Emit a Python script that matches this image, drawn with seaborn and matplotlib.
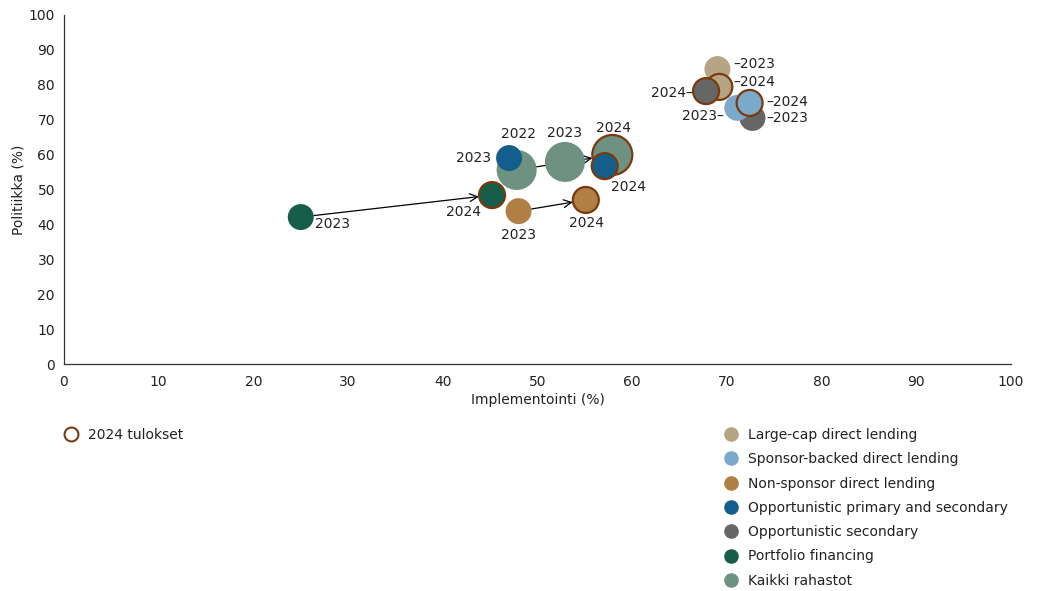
import matplotlib
matplotlib.use("Agg")
import numpy as np
import pandas as pd
import seaborn as sns
from matplotlib import pyplot as plt
from matplotlib.lines import Line2D

# Data (drawing order: later rows on top)
rahasto = [
    "Opportunistic secondary", "Sponsor-backed direct lending",
    "Large-cap direct lending", "Large-cap direct lending",
    "Opportunistic secondary", "Sponsor-backed direct lending",
    "Kaikki rahastot", "Kaikki rahastot", "Kaikki rahastot",
    "Opportunistic primary and secondary", "Opportunistic primary and secondary",
    "Non-sponsor direct lending", "Non-sponsor direct lending",
    "Portfolio financing", "Portfolio financing",
]
vuosi = [2023, 2023, 2023, 2024, 2024, 2024, 2022, 2023, 2024, 2023, 2024, 2023, 2024, 2023, 2024]
implementointi = [72.7, 71.1, 69.0, 69.2, 67.8, 72.4, 47.8, 52.9, 57.9, 47.0, 57.1, 48.0, 55.1, 25.0, 45.2]
politiikka = [70.5, 73.4, 84.5, 79.4, 78.2, 74.8, 55.6, 57.9, 59.9, 59.0, 56.7, 43.8, 47.0, 42.1, 48.4]

legend_order = [
    "Large-cap direct lending", "Sponsor-backed direct lending",
    "Non-sponsor direct lending", "Opportunistic primary and secondary",
    "Opportunistic secondary", "Portfolio financing", "Kaikki rahastot",
]
colors = ["#b5a584", "#7aa9c9", "#b07f43", "#135e8c", "#666666", "#175e4a", "#6f9182"]
palette = dict(zip(legend_order, colors))
edge_2024 = "#7a3a0e"

# label placement per row: (text, ha, dx px, dy px up)
labels = [
    ("\u20132023", "left", 14, 0), ("2023\u2013", "right", -13, -8),
    ("\u20132023", "left", 16, 5), ("\u20132024", "left", 14, 5),
    ("2024\u2013", "right", -13, -2), ("\u20132024", "left", 17, 1),
    ("2022", "center", 2, 36), ("2023", "center", 0, 29), ("2024", "center", 1, 27),
    ("2023", "right", -18, 0), ("2024", "center", 24, -21),
    ("2023", "center", 0, -24), ("2024", "center", 1, -23),
    ("2023", "center", 32, -7), ("2024", "center", -29, -17),
]

df = pd.DataFrame({"rahasto": rahasto, "vuosi": vuosi,
                   "x": implementointi, "y": politiikka})
df["koko"] = np.where(df["rahasto"] == "Kaikki rahastot", "iso", "pieni")

sns.set_style("white")
plt.rcParams["font.family"] = ["DejaVu Sans"]
txt = "#222222"
fs = 10

fig = plt.figure(figsize=(10.42, 5.91), dpi=100)
ax = fig.add_axes([64 / 1042, 1 - 364 / 591, (1011 - 64) / 1042, (364 - 15) / 591])

is24 = df["vuosi"] == 2024
sns.scatterplot(data=df, x="x", y="y", hue="rahasto", palette=palette,
                size="koko", sizes={"iso": 830, "pieni": 350},
                edgecolor=[edge_2024 if v else "none" for v in is24],
                linewidth=[1.6 if v else 0 for v in is24],
                alpha=1, legend=False, ax=ax, zorder=3)

# arrows between years
def arrow(i, j):
    r_a = 14.5 if df.koko[i] == "iso" else 9.5
    r_b = 14.5 if df.koko[j] == "iso" else 9.5
    ax.annotate("", xy=(df.x[j], df.y[j]), xytext=(df.x[i], df.y[i]),
                arrowprops=dict(arrowstyle="->", color="black", lw=0.9,
                                shrinkA=r_a, shrinkB=r_b, mutation_scale=14),
                zorder=2)

arrow(13, 14)
arrow(11, 12)
arrow(6, 8)

for i, (t, ha, dx, dy) in enumerate(labels):
    ax.annotate(t, xy=(df.x[i], df.y[i]), xytext=(dx * 0.72, dy * 0.72),
                textcoords="offset points", ha=ha, va="center",
                fontsize=fs, color=txt, zorder=5)

ax.set_xlim(0, 100)
ax.set_ylim(0, 100)
ax.set_xticks(range(0, 101, 10))
ax.set_yticks(range(0, 101, 10))
ax.tick_params(axis="both", length=0, labelcolor=txt, labelsize=fs)
ax.tick_params(axis="x", pad=8)
ax.tick_params(axis="y", pad=6.5)
for s in ["top", "right"]:
    ax.spines[s].set_visible(False)
for s in ["left", "bottom"]:
    ax.spines[s].set_color("#333333")
    ax.spines[s].set_linewidth(0.9)
ax.set_xlabel("Implementointi (%)", fontsize=fs, color=txt, labelpad=3)
ax.set_ylabel("Politiikka (%)", fontsize=fs, color=txt, labelpad=2)

# legends
h24 = [Line2D([], [], marker="o", linestyle="", markersize=10,
              markerfacecolor="white", markeredgecolor=edge_2024, markeredgewidth=1.5)]
fig.legend(h24, ["2024 tulokset"], loc="upper left",
           bbox_to_anchor=(64 / 1042, 1 - 428 / 591), frameon=False,
           fontsize=fs, handlelength=1.0, handletextpad=0.7,
           borderpad=0, borderaxespad=0, labelcolor=txt)
hs = [Line2D([], [], marker="o", linestyle="", markersize=10.5,
             markerfacecolor=palette[k], markeredgecolor="none") for k in legend_order]
fig.legend(hs, legend_order, loc="upper left",
           bbox_to_anchor=(724 / 1042, 1 - 428 / 591), frameon=False,
           fontsize=fs, handlelength=1.0, handletextpad=0.7, labelspacing=0.74,
           borderpad=0, borderaxespad=0, labelcolor=txt)

fig.savefig("out.png", dpi=100, facecolor="white")
